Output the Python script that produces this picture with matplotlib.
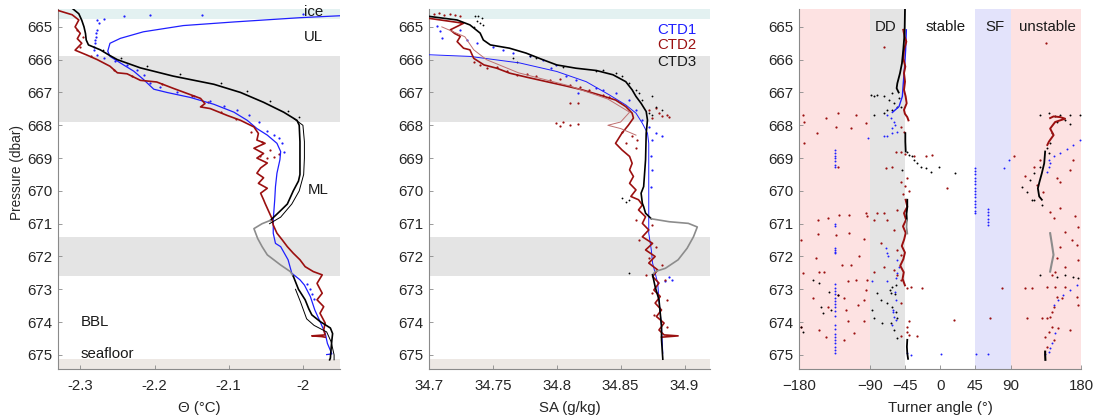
import numpy as np
import matplotlib
matplotlib.use('Agg')
import matplotlib.pyplot as plt

plt.rcParams['font.family'] = ['Liberation Sans', 'DejaVu Sans']

BLUE = '#1f1fff'
RED = '#9b1010'
BLACK = '#000000'
GREY = '#8c8c8c'

# ---------------- panel 1: conservative temperature ----------------
# CTD1 (blue)
p1_t = [664.62, 664.65, 664.72, 664.85, 664.96, 665.15, 665.35, 665.5, 665.74, 665.9, 666.1,
        666.35, 666.6, 666.9, 667.0, 667.15, 667.36, 667.6, 667.85, 668.1, 668.3, 668.55,
        668.8, 669.05, 669.46, 669.87, 670.27, 670.88, 671.29, 671.6, 671.7, 672.1, 672.51,
        672.71, 672.87, 673.22, 673.63, 673.98, 674.34, 674.65, 674.97, 674.99]
t1 = [-1.90, -1.94, -2.004, -2.093, -2.161, -2.215, -2.246, -2.26, -2.263, -2.26, -2.246,
      -2.228, -2.215, -2.201, -2.183, -2.152, -2.12, -2.093, -2.075, -2.062, -2.048, -2.035,
      -2.030, -2.031, -2.035, -2.037, -2.038, -2.04, -2.04, -2.037, -2.03, -2.02, -2.015,
      -2.004, -1.998, -1.99, -1.984, -1.977, -1.97, -1.967, -1.961, -1.968]
t1_dots = [-2.2686, -2.2416, -2.2057, -2.136, -2.0, -2.277, -2.2753, -2.2775, -2.279, -2.2789,
           -2.280, -2.2807, -2.281, -2.2811, -2.2775, -2.2686, -2.2528, -2.2371, -2.2236,
           -2.2146, -2.2057, -2.1922, -2.1697, -2.1473, -2.1248, -2.1068, -2.0889, -2.0731,
           -2.0597, -2.0484, -2.0394, -2.0327, -2.0282, -2.026, -1.994, -1.990, -1.988, -1.985]
p1_dots = [664.77, 664.68, 664.65, 664.63, 664.6, 664.8, 664.89, 665.09, 665.2, 665.3,
           665.4, 665.5, 665.6, 665.7, 665.85, 665.95, 666.04, 666.16, 666.31,
           666.46, 666.72, 666.84, 667.0, 667.12, 667.25, 667.41, 667.53, 667.68,
           667.89, 668.16, 668.29, 668.39, 668.55, 668.8, 672.85, 673.0, 673.15, 673.3]

# CTD2 (dark red)
p2_t = [664.5, 664.63, 664.79, 665.0, 665.2, 665.36, 665.5, 665.71, 665.86, 666.0, 666.2, 666.4,
        666.43, 666.63, 666.68, 666.88, 667.03, 667.18, 667.34, 667.44, 667.49, 667.7, 667.85,
        668.05, 668.25, 668.45, 668.55, 668.7, 668.86, 669.0, 669.15, 669.3, 669.46, 669.6,
        669.77, 669.92, 670.07, 670.27, 670.38, 670.63, 670.83, 671.04, 671.29, 671.49, 671.7,
        671.9, 672.1, 672.31, 672.46, 672.56, 672.82, 673.12, 673.32, 673.53, 673.73, 674.03,
        674.24, 674.39, 674.42, 674.44, 674.46]
t2 = [-2.33, -2.311, -2.302, -2.307, -2.30, -2.304, -2.298, -2.307, -2.291, -2.277, -2.26, -2.25,
      -2.237, -2.219, -2.197, -2.174, -2.156, -2.138, -2.132, -2.138, -2.125, -2.102, -2.084,
      -2.066, -2.06, -2.062, -2.051, -2.066, -2.053, -2.062, -2.048, -2.057, -2.062, -2.053,
      -2.06, -2.048, -2.057, -2.053, -2.051, -2.046, -2.042, -2.04, -2.035, -2.028, -2.021,
      -2.013, -2.004, -1.997, -1.986, -1.974, -1.981, -1.974, -1.981, -1.972, -1.977, -1.970,
      -1.972, -1.970, -1.988, -1.975, -1.970]
t2_dots = [-2.305, -2.296, -2.30, -2.285, -2.255, -2.23, -2.19, -2.15, -2.128, -2.11, -2.09,
           -2.07, -2.055, -2.045, -2.0574, -2.0484, -2.0394, -2.0327]
p2_dots = [665.1, 665.3, 665.6, 665.9, 666.3, 666.5, 666.75, 667.1, 667.3, 667.6, 667.8,
           668.2, 668.5, 668.75, 668.95, 669.0, 668.96, 668.87]

# CTD3 (black, grey where flagged)
p3_t_a = [664.45, 664.6, 664.8, 665.0, 665.2, 665.4, 665.55, 665.7, 665.85, 666.0, 666.25, 666.5,
          666.75, 667.0, 667.3, 667.6, 667.85, 668.0, 668.5, 669.0, 669.5, 669.7, 670.0, 670.4,
          670.6, 670.9]
t3_a = [-2.31, -2.302, -2.298, -2.295, -2.293, -2.292, -2.289, -2.273, -2.262, -2.25, -2.219, -2.175,
        -2.12, -2.084, -2.053, -2.026, -2.008, -2.005, -2.004, -2.004, -2.004, -2.006, -2.013, -2.021,
        -2.03, -2.044]
p3_t_g = [670.9, 671.0, 671.15, 671.45, 671.7, 671.95, 672.26, 672.46, 672.6]
t3_g = [-2.044, -2.055, -2.066, -2.061, -2.055, -2.048, -2.030, -2.017, -2.013]
p3_t_b = [672.6, 673.0, 673.32, 673.6, 673.78, 673.98, 674.18, 674.35, 674.55, 674.8, 675.1, 675.15]
t3_b = [-2.013, -2.006, -1.997, -1.992, -1.988, -1.977, -1.963, -1.960, -1.961, -1.962, -1.963, -1.964]
p3_t_c = [667.8, 668.0, 668.5, 669.0, 669.5, 670.0, 670.4, 670.8, 671.0]
t3_c = [-2.012, -2.0, -1.998, -1.998, -1.999, -2.005, -2.015, -2.03, -2.045]
p3_t_d = [673.0, 673.4, 673.9, 674.1, 674.3, 674.6, 675.0, 675.15]
t3_d = [-2.01, -2.003, -1.995, -1.985, -1.968, -1.962, -1.958, -1.958]
t3_dots = [-2.27, -2.245, -2.21, -2.165, -2.11, -2.075, -2.045, -2.02, -2.005]
p3_dots = [665.7, 665.95, 666.2, 666.45, 666.7, 666.95, 667.25, 667.55, 667.75]

# ---------------- panel 2: absolute salinity ----------------
p1_s = [665.85, 665.9, 666.1, 666.36, 666.67, 667.07, 667.38, 667.63, 667.94, 668.24, 668.55,
        669.26, 670.27, 670.68, 671.29, 671.8, 672.2, 672.81, 673.32, 674.14, 674.95]
s1 = [34.70, 34.732, 34.771, 34.80, 34.823, 34.841, 34.854, 34.862, 34.867, 34.871, 34.872,
      34.872, 34.872, 34.872, 34.872, 34.874, 34.875, 34.879, 34.88, 34.882, 34.883]
s1_dots = [34.7063, 34.7089, 34.7102, 34.7244, 34.7296, 34.7374, 34.7503, 34.7581, 34.7659, 34.7789,
           34.7892, 34.7957, 34.7996, 34.8074, 34.8151, 34.8307, 34.8358, 34.8165, 34.8462, 34.8566,
           34.8618, 34.867, 34.8721, 34.8773, 34.8825, 34.8747, 34.8734, 34.8742, 34.8734,
           34.8877, 34.8903, 34.8851]
p1_sdots = [664.97, 665.14, 665.35, 665.09, 665.4, 665.5, 665.6, 665.7, 665.8, 665.9,
            666.01, 666.26, 666.16, 666.51, 666.62, 666.87, 666.92, 667.02, 667.02, 667.23,
            667.53, 667.84, 668.04, 668.24, 668.34, 668.45, 668.95, 669.36, 669.87,
            672.61, 672.71, 672.76]

p2_s = [664.74, 664.89, 665.09, 665.2, 665.29, 665.45, 665.65, 665.7, 665.96, 666.16, 666.26,
        666.41, 666.53, 666.67, 666.8, 666.92, 667.07, 667.23, 667.43, 667.63, 667.78, 668.0,
        668.24, 668.55, 668.75, 668.95, 669.16, 669.36, 669.56, 669.77, 669.97, 670.17, 670.27,
        670.43, 670.58, 670.79, 670.99, 671.19, 671.4, 671.6, 671.8, 672.0, 672.2, 672.41, 672.61,
        672.81, 673.02, 673.22, 673.42, 673.63, 673.83, 674.03, 674.24, 674.39, 674.42, 674.46]
s2 = [34.70, 34.727, 34.7166, 34.72, 34.7245, 34.722, 34.727, 34.732, 34.735, 34.743, 34.753,
      34.763, 34.776, 34.792, 34.807, 34.82, 34.833, 34.846, 34.854, 34.859, 34.86, 34.856,
      34.851, 34.846, 34.851, 34.857, 34.859, 34.857, 34.86, 34.857, 34.862, 34.858, 34.864,
      34.867, 34.864, 34.8695, 34.867, 34.872, 34.867, 34.875, 34.8695, 34.877, 34.872, 34.879, 34.875,
      34.88, 34.876, 34.881, 34.877, 34.882, 34.878, 34.884, 34.88, 34.884, 34.895, 34.882]
p2_s_thin = [665.0, 665.3, 665.7, 666.0, 666.4, 666.8, 667.2, 667.6, 667.9, 668.0, 668.1, 668.3]
s2_thin = [34.71, 34.728, 34.735, 34.745, 34.77, 34.81, 34.84, 34.857, 34.85, 34.84, 34.85, 34.862]
s2_dots = [34.7037, 34.7076, 34.7115, 34.7166, 34.7205, 34.7244,
           34.7348, 34.74, 34.7451, 34.753, 34.7607, 34.7685, 34.7763, 34.784, 34.7944, 34.8022,
           34.81, 34.8178, 34.8256, 34.8358, 34.8411, 34.81, 34.8165,
           34.7996, 34.8022, 34.81, 34.8165, 34.8048,
           34.8721, 34.8773, 34.8799, 34.8825, 34.8877, 34.8747, 34.8864,
           34.8514, 34.8592, 34.8631, 34.854, 34.8618,
           34.8618, 34.8747, 34.8644, 34.8773, 34.8721, 34.8825, 34.8695, 34.8851, 34.8747,
           34.8864, 34.876, 34.8864]
p2_sdots = [664.6, 664.58, 664.63, 664.62, 664.65, 664.66,
            666.06, 666.16, 666.26, 666.21, 666.36, 666.46, 666.43, 666.51, 666.62, 666.6,
            666.77, 666.84, 666.92, 667.07, 667.14, 667.33, 667.33,
            667.94, 668.02, 667.99, 667.96, 667.89,
            667.53, 667.48, 667.63, 667.73, 667.75, 667.78, 667.68,
            668.19, 668.34, 668.45, 668.55, 668.7,
            670.88, 671.04, 671.49, 671.7, 672.05, 672.26, 672.56, 672.71, 673.12,
            673.32, 673.78, 674.14]

p3_s_a = [664.68, 664.79, 664.94, 665.19, 665.4, 665.55, 665.65, 665.8, 666.0, 666.16, 666.26,
          666.33, 666.46, 666.67, 666.92, 667.12, 667.33, 667.58, 667.84, 668.24, 669.05, 669.87,
          670.07, 670.38, 670.48, 670.68, 670.85]
s3_a = [34.70, 34.722, 34.732, 34.740, 34.7425, 34.748, 34.763, 34.776, 34.789, 34.80, 34.815,
        34.831, 34.844, 34.854, 34.859, 34.862, 34.866, 34.87, 34.871, 34.87, 34.8695, 34.868,
        34.866, 34.867, 34.868, 34.8695, 34.874]
p3_s_g = [670.85, 670.94, 670.99, 671.1, 671.4, 671.75, 672.1, 672.36, 672.46, 672.56]
s3_g = [34.874, 34.888, 34.903, 34.91, 34.907, 34.902, 34.895, 34.885, 34.877, 34.875]
p3_s_b = [672.56, 672.92, 673.32, 673.73, 674.14, 674.54, 675.13]
s3_b = [34.875, 34.877, 34.88, 34.881, 34.882, 34.882, 34.883]
s3_dots = [34.7361, 34.7387, 34.7413, 34.7374, 34.74, 34.742, 34.7348,
           34.7659, 34.7685, 34.7789, 34.784, 34.8048, 34.8307, 34.8358, 34.8462, 34.8514,
           34.8566, 34.8618, 34.8644, 34.867, 34.8747, 34.8773, 34.8825, 34.8721, 34.8747,
           34.8514, 34.854, 34.8566, 34.8566]
p3_sdots = [664.68, 664.66, 664.74, 664.81, 664.89, 664.94, 664.99,
            665.96, 666.06, 665.9, 665.96, 666.21, 666.36, 666.31, 666.41, 666.51,
            666.72, 666.92, 667.02, 667.23, 667.12, 667.43, 667.53, 667.63, 667.68,
            670.22, 670.33, 670.27, 672.51]

# ---------------- panel 3: Turner angle ----------------
tu1_line = [-43.2, -44.1, -45.4, -47.1, -48.3, -52.6, -61.1]
p1_tu_line = [665.09, 665.7, 666.21, 666.72, 667.12, 667.43, 667.61]
tu1_line2 = [145.7, 153.4, 161.8, 170.3, 178.8]
p1_tu_line2 = [668.95, 668.83, 668.73, 668.6, 668.45]
tu1_line3 = [174.6, 166.1, 157.6, 151.2, 144.9]
p1_tu_line3 = [672.87, 673.02, 673.17, 673.32, 673.48]
tu1_dots = [-67.4, -63.2, -59.0, -58.1, -61.1, -54.7, -61.1, -67.4, -71.7, -91.7,
            -134.1, -134.1, -134.1, -134.1, -134.1, -134.1, -134.1,
            45, 45, 45, 45, 45, 45, 45, 45, 45, 45, 45, 45, 45, 45, 45,
            61.3, 61.3, 61.3, 61.3, 61.3, 61.3, 81.2, 87.5,
            138.5, 138.5, 136.4, 140.0,
            -134.1, -134.1, -134.1, -134.1, -134.1, -134.1, -134.1, -134.1, -134.1, -134.1,
            -134.1, -134.1, -134.1, -134.1, -134.1, -134.1, -134.1, -134.1, -134.1, -134.1,
            -134.1, -134.1, -134.1, -134.1, -134.1,
            -69.6, -67.4, -66.2, -54.7, -52.6, -54.7, -56.8, -86.5, -67.4, -58.1, -56.8,
            -59.8, -59.0, -61.1, -57.0, -60.0,
            147.0, 142.7, 140.6, 138.5, 134.2, 0.5, 45.9, 61.3, -42.0, -37.7]
p1_tu_dots = [667.68, 667.78, 667.89, 667.99, 668.09, 668.19, 668.24, 668.34, 668.32, 668.39,
              668.75, 668.85, 668.95, 669.0, 669.1, 669.2, 669.28,
              669.3, 669.4, 669.5, 669.6, 669.7, 669.8, 669.9, 670.0, 670.1, 670.2, 670.3,
              670.4, 670.5, 670.6, 670.68,
              670.55, 670.65, 670.75, 670.85, 670.95, 671.05, 669.31, 669.06,
              669.06, 669.26, 669.41, 669.15,
              671.02, 671.07, 671.75, 671.8, 671.86, 671.9, 672.85, 672.95, 673.05, 673.15,
              673.25, 673.35, 673.45, 673.55, 673.65, 673.8, 674.1, 674.2, 674.35, 674.45,
              674.55, 674.65, 674.75, 674.85, 674.95,
              671.75, 671.9, 672.0, 672.1, 672.31, 672.51, 672.66, 672.76, 672.76, 673.07, 673.32,
              673.63, 673.83, 674.08, 673.95, 673.7,
              674.34, 674.65, 674.8, 674.9, 674.97, 674.97, 674.97, 674.97, 674.95, 675.0]

tu2_line = [-47.1, -45.4, -43.2, -46.2, -47.1, -44.5, -46.2, -44.9, -46.2, -44.1, -42.8, -46.2,
            -45.0, -42.0, -40.5]
p2_tu_line = [665.09, 665.3, 665.45, 665.7, 665.96, 666.21, 666.41, 666.67, 666.92, 667.12,
              667.33, 667.53, 667.65, 667.75, 667.85]
tu2_line2 = [-44.1, -42.0, -46.2, -43.5, -47.5, -44.0, -46.0, -49.0, -45.0, -47.0, -51.0, -46.5,
             -48.0, -45.0]
p2_tu_line2 = [670.27, 670.48, 670.68, 670.88, 671.08, 671.28, 671.48, 671.68, 671.88, 672.08,
               672.28, 672.48, 672.68, 672.88]
tu2_line3 = [140.6, 144.9, 153.4, 159.7, 147.0, 140.6, 145.0, 139.0, 137.0]
p2_tu_line3 = [667.78, 667.73, 667.75, 667.8, 667.9, 668.1, 668.3, 668.5, 668.6]
tu2_dots = [-71.7, -50.5, -46.2, -56.8, -50.5, -45.4, -18.6, -10.1, 8.9, -33.5, -69.6, -61.1, -50.5,
            -45.0, -40.0, -47.0, -42.0,
            -175.7, -173.6, -173.6, -157.5, -146.0, -131.1, -133.3, -114.2, -107.8, -95.0, -131.1,
            135.5, 93.9, 108.8, 127.9, 149.1, 119.4, 123.6, 153.4, 170.3, 166.1, 132.1,
            -177.8, -156.6, -129.0, -116.3, -143.9, -95.0, -92.9, -116.3, -133.3, -155.8, -97.2,
            -103.5, -114.2, -124.8, -158.7, -175.7, -154.5, -148.1, -118.4, -107.8, -92.9,
            -163.0, -131.1, -122.6, -97.2, -143.9, -120.5, -105.6, -97.2, -118.4, -177.8, -154.5,
            -146.0, -109.9, -122.6,
            -80.2, -71.7, -54.7, -67.4, -84.4, -59.0, -76.0, -54.7, -50.5, -71.7, -59.0, -54.7,
            -50.5, -84.4, -95.0, -42.0, -37.7, -22.9, 17.5, -50.5, -39.8, -42.0, -42.0, -39.8,
            -29.2, -50.5, 79.1, 64.2,
            140.6, 144.9, 153.4, 172.4, 176.7, 159.7, 168.2, 174.6, 153.4, 149.1, 176.7, 159.7,
            146.9, 142.7, 108.8, 117.3, 136.4, 147.0, 159.7, 149.1, 155.5, 174.6, 176.7, 144.9,
            142.7, 140.6, 136.4, 130.0, 110.9, 142.7, 138.5, 134.2, 151.2, 166.1, 144.9, 136.4]
p2_tu_dots = [665.6, 668.04, 668.19, 668.8, 668.8, 668.87, 668.95, 668.92, 669.92, 668.95, 669.31,
              669.26, 669.72, 669.85, 670.0, 670.1, 669.6,
              667.68, 667.89, 668.55, 668.24, 667.78, 667.63, 668.04, 668.09, 667.68, 667.94, 669.26,
              665.48, 668.93, 669.56, 669.06, 669.61, 669.26, 669.82, 669.72, 669.06, 669.36, 670.02,
              671.49, 670.88, 670.73, 670.73, 670.83, 670.68, 670.78, 671.29, 671.34, 671.32, 671.47,
              672.0, 672.26, 672.26, 672.05, 672.51, 672.46, 672.46, 672.76, 672.71, 672.71,
              673.27, 673.17, 673.27, 673.32, 673.53, 673.63, 673.48, 673.98, 673.98, 674.14, 674.24,
              674.44, 674.34, 674.54,
              670.68, 670.68, 670.58, 670.88, 670.88, 671.19, 671.6, 671.8, 671.95, 672.31, 672.41,
              672.56, 672.71, 672.46, 673.02, 672.97, 672.92, 672.97, 673.93, 673.42, 673.98, 674.14,
              674.29, 674.39, 674.41, 674.41, 672.97, 673.88,
              670.63, 670.83, 670.53, 670.78, 671.09, 671.24, 671.49, 671.65, 671.7, 672.05, 672.1,
              672.31, 672.46, 672.56, 672.97, 672.97, 672.94, 672.92, 672.94, 673.22, 673.27,
              673.22, 673.48, 673.53, 673.68, 673.83, 673.88, 673.88, 673.88, 674.14, 674.29,
              674.44, 674.19, 674.24, 674.54, 674.75]

tu3_line = [-44.9, -45.4, -47.1, -48.8, -51.3, -54.7, -55.6, -53.0]
p3_tu_line = [664.43, 665.19, 665.7, 666.11, 666.41, 666.72, 666.87, 667.0]
tu3_line2 = [-44.5, -44.5, -44.0]
p3_tu_line2 = [668.24, 668.5, 668.8]
tu3_line3 = [-42.0, -42.0, -43.0, -42.5]
p3_tu_line3 = [670.27, 670.5, 670.7, 670.9]
tu3_grey = [-42.5, -43.0, -42.0]
p3_tu_grey = [670.9, 671.1, 671.3]
tu3_grey2 = [140.6, 142.7, 144.9, 142.7, 140.6]
p3_tu_grey2 = [671.29, 671.6, 671.95, 672.2, 672.46]
tu3_line4 = [134.2, 133.0, 130.0, 127.0, 124.9, 126.6, 130.0]
p3_tu_line4 = [668.8, 669.16, 669.46, 669.72, 669.92, 670.17, 670.27]
tu3_line5 = [-42.0, -42.5, -42.0, -41.0]
p3_tu_line5 = [674.54, 674.75, 674.95, 675.12]
tu3_line6 = [134.2, 134.2, 134.5]
p3_tu_line6 = [674.9, 675.0, 675.15]
tu3_dots = [-88.7, -84.4, -80.2, -71.7, -65.3, -61.1, -59.0, -54.7, -67.4, -61.1, -84.4, -71.7,
            -52.6, -50.5,
            -42.0, -39.8, -35.6, -33.5, -29.2, -25.0, -18.6, -12.3, -1.6, 19.6, -48.3,
            127.9, 138.5, 147.0, 153.4, 166.1, 178.8, 149.1, 159.7, 166.1, 142.7, 140.6, 136.4,
            127.9, 119.4, 115.1, 104.5, 110.9, 117.3, 130.0, 138.5,
            -163.0, -154.5, -149.4, -131.1, -141.7, -152.4, -139.6, -177.8, -175.7,
            -56.8, -61.1, -64.0, -62.3, -58.1, -80.2, -76.0, -67.4, -61.1, -56.8, -54.7, -63.2,
            -73.8, -84.4, -59.0, -54.7, -86.5,
            127.9, 149.1, 159.7, 170.3, 176.7, 119.4]
p3_tu_dots = [667.07, 667.12, 667.07, 667.12, 667.23, 667.02, 667.33, 667.43, 667.53, 667.53,
              667.68, 667.63, 667.18, 667.43,
              668.8, 668.9, 668.95, 669.06, 669.16, 669.26, 669.31, 669.41, 669.26, 669.44, 669.36,
              667.68, 667.63, 667.73, 667.68, 667.68, 667.68, 667.89, 667.84, 667.96, 668.24,
              668.55, 668.7, 669.26, 669.46, 669.66, 669.87, 670.02, 670.27, 670.43, 668.85,
              672.71, 672.8, 673.73, 673.17, 673.07, 673.53, 673.63, 674.14, 674.29,
              672.87, 672.94, 673.02, 673.1, 673.15, 673.12, 673.32, 673.42, 673.53, 673.68,
              673.88, 674.03, 674.03, 673.88, 674.24, 674.49, 673.63,
              672.56, 672.61, 672.56, 672.61, 672.66, 670.27]

# ---------------- figure ----------------
YLIM = (675.43, 664.44)
YTICKS = [665, 666, 667, 668, 669, 670, 671, 672, 673, 674, 675]

fig = plt.figure(figsize=(10.99, 4.19), dpi=100)
ax1 = fig.add_axes([0.0528, 0.1193, 0.2566, 0.8604])
ax2 = fig.add_axes([0.3904, 0.1193, 0.2557, 0.8604])
ax3 = fig.add_axes([0.7273, 0.1193, 0.2563, 0.8604])


def style(ax):
    ax.set_ylim(*YLIM)
    ax.set_yticks(YTICKS)
    for s in ['top', 'right']:
        ax.spines[s].set_visible(False)
    for s in ['left', 'bottom']:
        ax.spines[s].set_color('#8a8a8a')
        ax.spines[s].set_linewidth(0.8)
    ax.tick_params(direction='in', length=3, width=0.6, color='#8a8a8a',
                   labelsize=10.8, labelcolor='#262626', pad=4)
    ax.tick_params(axis='x', pad=7.5)


def hbands(ax):
    ax.axhspan(664.44, 664.76, color='#e3f1f1', lw=0, zorder=0)
    ax.axhspan(665.88, 667.89, color='#e4e4e4', lw=0, zorder=0)
    ax.axhspan(671.41, 672.59, color='#e4e4e4', lw=0, zorder=0)
    ax.axhspan(675.13, 675.43, color='#ede8e4', lw=0, zorder=0)


def dots(ax, x, y, c, ms=1.6):
    ax.plot(x, y, ls='none', marker='o', ms=ms, mec='none', mfc=c, zorder=3)


# panel 1
style(ax1)
hbands(ax1)
ax1.set_xlim(-2.33, -1.95)
ax1.set_xticks([-2.3, -2.2, -2.1, -2.0])
ax1.set_xticklabels(['-2.3', '-2.2', '-2.1', '-2'])
ax1.plot(t1, p1_t, color=BLUE, lw=0.9, zorder=4)
dots(ax1, t1_dots, p1_dots, BLUE)
ax1.plot(t2, p2_t, color=RED, lw=1.2, zorder=4)
dots(ax1, t2_dots, p2_dots, RED)
ax1.plot(t3_a, p3_t_a, color=BLACK, lw=1.2, zorder=4)
ax1.plot(t3_g, p3_t_g, color=GREY, lw=1.2, zorder=4)
ax1.plot(t3_b, p3_t_b, color=BLACK, lw=1.2, zorder=4)
ax1.plot(t3_c, p3_t_c, color=BLACK, lw=0.7, zorder=4)
ax1.plot(t3_d, p3_t_d, color=BLACK, lw=0.7, zorder=4)
dots(ax1, t3_dots, p3_dots, BLACK, 1.3)
ax1.set_ylabel('Pressure (dbar)', fontsize=9.8, color='#262626')
ax1.yaxis.set_label_coords(-0.12, 0.545)
ax1.set_xlabel('Θ (°C)', fontsize=10.8, color='#262626', labelpad=5.5)
tk = dict(fontsize=10.8, color='#1a1a1a', va='center')
ax1.text(-1.986, 664.56, 'ice', ha='center', **tk)
ax1.text(-1.986, 665.3, 'UL', ha='center', **tk)
ax1.text(-1.980, 669.97, 'ML', ha='center', **tk)
ax1.text(-2.300, 674.0, 'BBL', ha='left', **tk)
ax1.text(-2.300, 674.97, 'seafloor', ha='left', **tk)

# panel 2
style(ax2)
hbands(ax2)
ax2.set_xlim(34.7, 34.92)
ax2.set_xticks([34.7, 34.75, 34.8, 34.85, 34.9])
ax2.set_xticklabels(['34.7', '34.75', '34.8', '34.85', '34.9'])
ax2.plot(s1, p1_s, color=BLUE, lw=0.7, zorder=4)
dots(ax2, s1_dots, p1_sdots, BLUE)
ax2.plot(s2, p2_s, color=RED, lw=1.2, zorder=4)
ax2.plot(s2_thin, p2_s_thin, color='#c07070', lw=0.7, zorder=4)
dots(ax2, s2_dots, p2_sdots, RED)
ax2.plot(s3_a, p3_s_a, color=BLACK, lw=1.2, zorder=4)
ax2.plot(s3_g, p3_s_g, color=GREY, lw=1.2, zorder=4)
ax2.plot(s3_b, p3_s_b, color=BLACK, lw=1.2, zorder=4)
dots(ax2, s3_dots, p3_sdots, BLACK, 1.3)
ax2.set_xlabel('SA (g/kg)', fontsize=10.8, color='#262626', labelpad=5.5)
ax2.text(34.879, 665.09, 'CTD1', ha='left', fontsize=10.8, color=BLUE, va='center')
ax2.text(34.879, 665.55, 'CTD2', ha='left', fontsize=10.8, color=RED, va='center')
ax2.text(34.879, 666.06, 'CTD3', ha='left', fontsize=10.8, color='#1a1a1a', va='center')

# panel 3
style(ax3)
ax3.set_xlim(-180, 180)
ax3.axvspan(-180, -90, color='#fde2e2', lw=0, zorder=0)
ax3.axvspan(-90, -45, color='#e4e4e4', lw=0, zorder=0)
ax3.axvspan(45, 90, color='#e3e3fb', lw=0, zorder=0)
ax3.axvspan(90, 180, color='#fde2e2', lw=0, zorder=0)
ax3.set_xticks([-180, -90, -45, 0, 45, 90, 180])
ax3.plot(tu1_line, p1_tu_line, color=BLUE, lw=1.0, zorder=4)
ax3.plot(tu1_line2, p1_tu_line2, color=BLUE, lw=0, marker='o', ms=1.4, mec='none', zorder=4)
ax3.plot(tu1_line3, p1_tu_line3, color=BLUE, lw=0, marker='o', ms=1.4, mec='none', zorder=4)
dots(ax3, tu1_dots, p1_tu_dots, BLUE, 1.4)
ax3.plot(tu2_line, p2_tu_line, color=RED, lw=1.4, zorder=4)
ax3.plot(tu2_line2, p2_tu_line2, color=RED, lw=1.4, zorder=4)
ax3.plot(tu2_line3, p2_tu_line3, color=RED, lw=1.4, zorder=4)
dots(ax3, tu2_dots, p2_tu_dots, RED, 1.6)
ax3.plot(tu3_line, p3_tu_line, color=BLACK, lw=1.3, zorder=5)
ax3.plot(tu3_line2, p3_tu_line2, color=BLACK, lw=1.3, zorder=5)
ax3.plot(tu3_line3, p3_tu_line3, color=BLACK, lw=1.3, zorder=5)
ax3.plot(tu3_grey, p3_tu_grey, color=GREY, lw=1.3, zorder=5)
ax3.plot(tu3_grey2, p3_tu_grey2, color=GREY, lw=1.5, zorder=5)
ax3.plot(tu3_line4, p3_tu_line4, color=BLACK, lw=1.3, zorder=5)
ax3.plot(tu3_line5, p3_tu_line5, color=BLACK, lw=1.3, zorder=5)
ax3.plot(tu3_line6, p3_tu_line6, color=BLACK, lw=1.5, zorder=5)
dots(ax3, tu3_dots, p3_tu_dots, BLACK, 1.4)
ax3.set_xlabel('Turner angle (°)', fontsize=10.8, color='#262626', labelpad=5.5)
ax3.text(-70.2, 665.0, 'DD', ha='center', **tk)
ax3.text(6.9, 665.0, 'stable', ha='center', **tk)
ax3.text(69.7, 665.0, 'SF', ha='center', **tk)
ax3.text(137.7, 665.0, 'unstable', ha='center', **tk)

fig.savefig('out.png', dpi=100)
